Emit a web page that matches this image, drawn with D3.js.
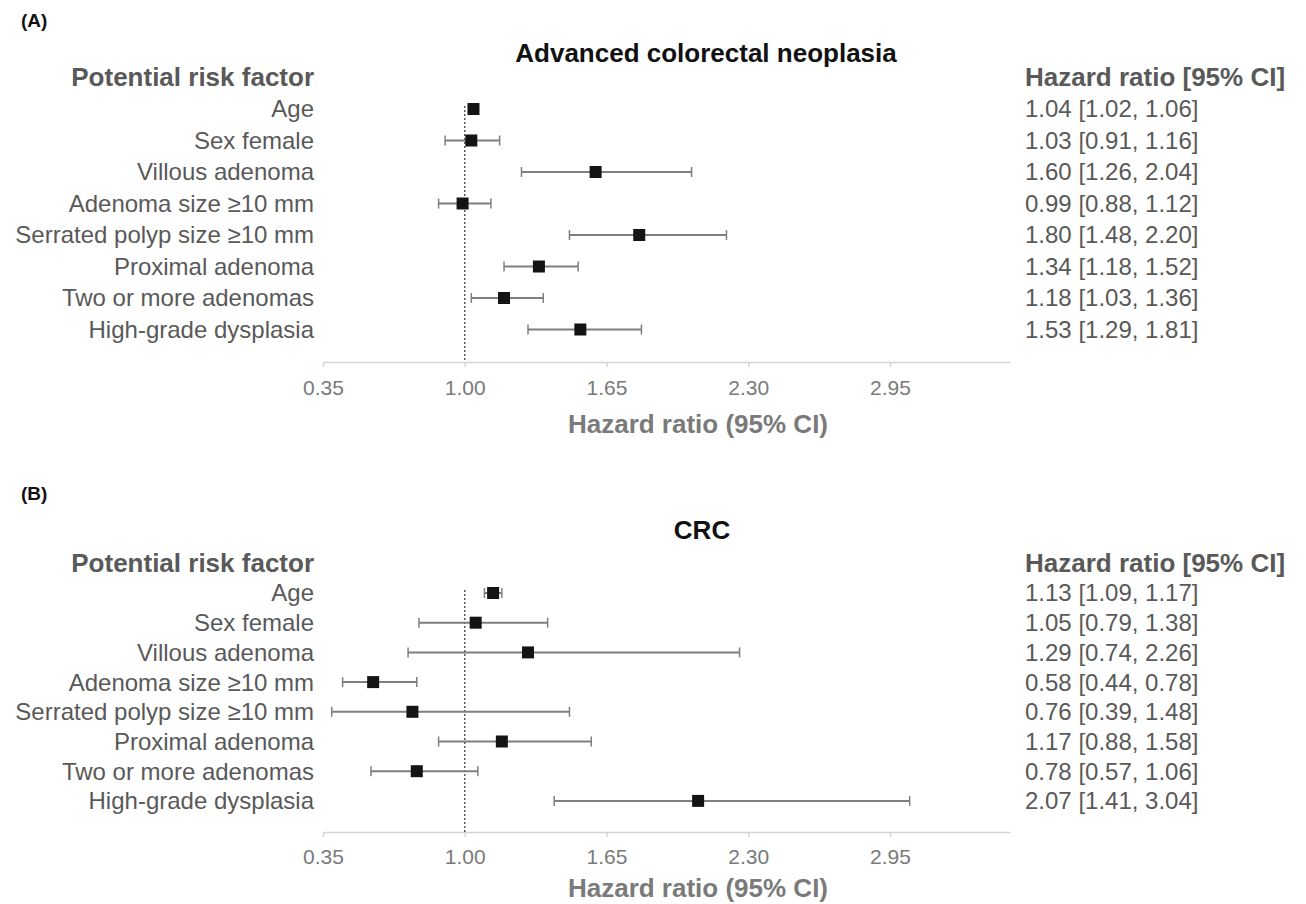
<!DOCTYPE html>
<html>
<head>
<meta charset="utf-8">
<script src="https://cdn.jsdelivr.net/npm/d3@7"></script>
<style>
  html, body { margin: 0; padding: 0; background: #fff; }
  svg { display: block; font-family: "Liberation Sans", Arial, sans-serif; }
</style>
</head>
<body>
<svg id="chart" width="1306" height="904"></svg>
<script>
const factors = ["Age", "Sex female", "Villous adenoma", "Adenoma size \u226510 mm",
  "Serrated polyp size \u226510 mm", "Proximal adenoma", "Two or more adenomas", "High-grade dysplasia"];

const hrA = [1.04, 1.03, 1.60, 0.99, 1.80, 1.34, 1.18, 1.53];
const loA = [1.02, 0.91, 1.26, 0.88, 1.48, 1.18, 1.03, 1.29];
const hiA = [1.06, 1.16, 2.04, 1.12, 2.20, 1.52, 1.36, 1.81];

const hrB = [1.13, 1.05, 1.29, 0.58, 0.76, 1.17, 0.78, 2.07];
const loB = [1.09, 0.79, 0.74, 0.44, 0.39, 0.88, 0.57, 1.41];
const hiB = [1.17, 1.38, 2.26, 0.78, 1.48, 1.58, 1.06, 3.04];

const tickValues = [0.35, 1.00, 1.65, 2.30, 2.95];
const axisDomain = [0.35, 3.5];

const panels = [
  { tag: "(A)", title: "Advanced colorectal neoplasia", hr: hrA, lo: loA, hi: hiA,
    tagY: 20, titleY: 53, titleX: 706, headerY: 77, rowTop: 109, rowStep: 31.5, axisY: 362,
    tickY: 388, axTitleY: 424 },
  { tag: "(B)", title: "CRC", hr: hrB, lo: loB, hi: hiB,
    tagY: 493, titleY: 530, titleX: 702, headerY: 563, rowTop: 593, rowStep: 29.7, axisY: 832,
    tickY: 857, axTitleY: 888 }
];

const svg = d3.select("#chart");
const x = d3.scaleLinear().domain(axisDomain).range([323, 1010]);
const grey = "#595959";
const lightGrey = "#7a7a7a";

panels.forEach(p => {
  const g = svg.append("g");
  const y = d3.scalePoint().domain(factors)
    .range([p.rowTop, p.rowTop + p.rowStep * (factors.length - 1)]);

  g.append("text").attr("x", 21).attr("y", p.tagY).attr("dy", "0.35em")
    .attr("font-size", 19).attr("font-weight", "bold").attr("fill", "#111").text(p.tag);
  g.append("text").attr("x", p.titleX).attr("y", p.titleY).attr("dy", "0.35em")
    .attr("text-anchor", "middle").attr("font-size", 26).attr("font-weight", "bold")
    .attr("fill", "#111").text(p.title);

  g.append("text").attr("x", 314).attr("y", p.headerY).attr("dy", "0.35em")
    .attr("text-anchor", "end").attr("font-size", 26).attr("font-weight", "bold")
    .attr("fill", grey).text("Potential risk factor");
  g.append("text").attr("x", 1025).attr("y", p.headerY).attr("dy", "0.35em")
    .attr("font-size", 26).attr("font-weight", "bold")
    .attr("fill", grey).text("Hazard ratio [95% CI]");

  // row labels
  g.selectAll("text.lab").data(factors).join("text").attr("class", "lab")
    .attr("x", 314).attr("y", d => y(d)).attr("dy", "0.35em")
    .attr("text-anchor", "end").attr("font-size", 24).attr("fill", grey).text(d => d);

  // value labels
  g.selectAll("text.val").data(factors).join("text").attr("class", "val")
    .attr("x", 1025).attr("y", d => y(d)).attr("dy", "0.35em")
    .attr("font-size", 24).attr("fill", grey)
    .text((d, i) => `${p.hr[i].toFixed(2)} [${p.lo[i].toFixed(2)}, ${p.hi[i].toFixed(2)}]`);

  // axis
  const axis = d3.axisBottom(x).tickValues(tickValues).tickFormat(d3.format(".2f"))
    .tickSizeInner(5).tickSizeOuter(0).tickPadding(0);
  const ax = g.append("g").attr("transform", `translate(0,${p.axisY})`).call(axis);
  ax.select(".domain").attr("stroke", "#d4d4d4").attr("stroke-width", 1.5);
  ax.selectAll(".tick line").attr("stroke", "#d4d4d4").attr("stroke-width", 1.5);
  ax.selectAll(".tick text").attr("font-size", 21).attr("fill", lightGrey)
    .attr("y", p.tickY - p.axisY).attr("dy", "0.35em");

  g.append("text").attr("x", 698)
    .attr("y", p.axTitleY).attr("dy", "0.35em")
    .attr("text-anchor", "middle").attr("font-size", 26).attr("font-weight", "bold")
    .attr("fill", lightGrey).text("Hazard ratio (95% CI)");

  // reference line at 1
  g.append("line").attr("x1", x(1)).attr("x2", x(1))
    .attr("y1", p.rowTop - 3).attr("y2", p.axisY)
    .attr("stroke", grey).attr("stroke-width", 1.5).attr("stroke-dasharray", "2,2");

  // error bars
  const rows = factors.map((f, i) => ({ f, hr: p.hr[i], lo: p.lo[i], hi: p.hi[i] }));
  const eb = g.selectAll("g.eb").data(rows).join("g").attr("class", "eb");
  const ebColor = "#7f7f7f";
  eb.append("line").attr("x1", d => x(d.lo)).attr("x2", d => x(d.hi))
    .attr("y1", d => y(d.f)).attr("y2", d => y(d.f))
    .attr("stroke", ebColor).attr("stroke-width", 2);
  eb.append("line").attr("x1", d => x(d.lo)).attr("x2", d => x(d.lo))
    .attr("y1", d => y(d.f) - 5).attr("y2", d => y(d.f) + 5)
    .attr("stroke", ebColor).attr("stroke-width", 1.5);
  eb.append("line").attr("x1", d => x(d.hi)).attr("x2", d => x(d.hi))
    .attr("y1", d => y(d.f) - 5).attr("y2", d => y(d.f) + 5)
    .attr("stroke", ebColor).attr("stroke-width", 1.5);
  eb.append("rect").attr("x", d => x(d.hr) - 6).attr("y", d => y(d.f) - 6)
    .attr("width", 12).attr("height", 12).attr("fill", "#141414");
});
</script>
</body>
</html>
